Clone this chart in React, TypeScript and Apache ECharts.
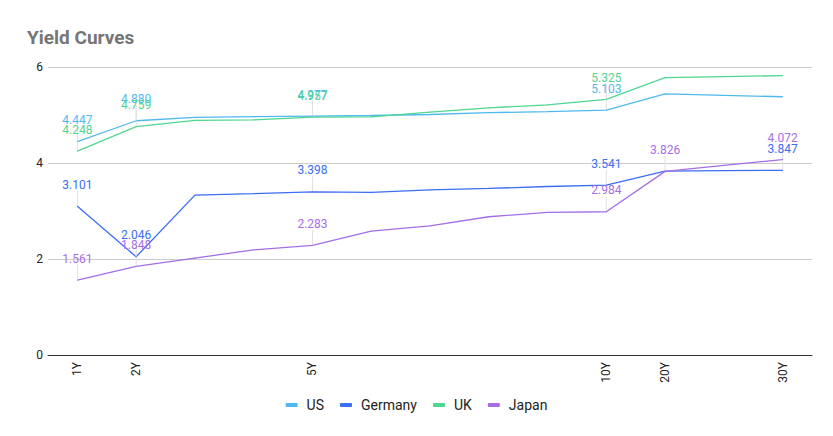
import * as echarts from "echarts";
import React, { useEffect, useRef } from "react";

// maturities on the category axis; only some of them carry a tick label
const maturities = ["1Y", "2Y", "3Y", "4Y", "5Y", "6Y", "7Y", "8Y", "9Y", "10Y", "20Y", "25Y", "30Y"];
const shownTicks = ["1Y", "2Y", "5Y", "10Y", "20Y", "30Y"];

const usYields = [4.447, 4.88, 4.95, 4.965, 4.977, 4.99, 5.01, 5.05, 5.07, 5.103, 5.44, 5.41, 5.38];
const germanyYields = [3.101, 2.046, 3.33, 3.36, 3.398, 3.39, 3.44, 3.47, 3.51, 3.541, 3.83, 3.84, 3.847];
const ukYields = [4.248, 4.759, 4.89, 4.9, 4.957, 4.96, 5.06, 5.15, 5.21, 5.325, 5.78, 5.8, 5.82];
const japanYields = [1.561, 1.848, 2.02, 2.19, 2.283, 2.58, 2.69, 2.88, 2.97, 2.984, 3.826, 3.95, 4.072];

// which points get a data label, per series
const usLabelled = ["1Y", "2Y", "5Y", "10Y"];
const germanyLabelled = ["1Y", "2Y", "5Y", "10Y", "30Y"];
const ukLabelled = ["1Y", "2Y", "5Y", "10Y"];
const japanLabelled = ["1Y", "2Y", "5Y", "10Y", "20Y", "30Y"];

const FONT = "Roboto, 'Noto Sans', sans-serif";

const makeSeries = (name: string, color: string, values: number[], labelled: string[]) => ({
  name,
  type: "line",
  symbol: "circle",
  symbolSize: 1,
  showSymbol: true,
  color,
  itemStyle: { color },
  lineStyle: { width: 1.3, color },
  labelLine: { show: true, lineStyle: { color: "#e0e0e0", width: 1 } },
  labelLayout: { dy: -12 },
  data: values.map((v, i) => ({
    value: v,
    label: {
      show: labelled.includes(maturities[i]),
      position: "top",
      distance: 3,
      color,
      fontSize: 12,
      fontFamily: FONT,
      formatter: (p: any) => Number(p.value).toFixed(3),
    },
  })),
});

const App: React.FC = () => {
  const chartRef = useRef<HTMLDivElement | null>(null);

  useEffect(() => {
    const chart = echarts.init(chartRef.current, null, { renderer: "svg" });
    chart.setOption({
      animation: false,
      backgroundColor: "#ffffff",
      title: {
        text: "Yield Curves",
        left: 22,
        top: 23,
        textStyle: { fontFamily: FONT, fontSize: 19, fontWeight: "bold", color: "#757575" },
      },
      legend: {
        bottom: 19,
        left: "center",
        itemWidth: 12,
        itemHeight: 4,
        itemGap: 16,
        icon: "roundRect",
        textStyle: { fontFamily: FONT, fontSize: 14, color: "#222", padding: [0, 0, 0, 4] },
        data: ["US", "Germany", "UK", "Japan"],
      },
      grid: { left: 48, right: 21, top: 67, bottom: 81 },
      xAxis: {
        type: "category",
        data: maturities,
        boundaryGap: true,
        axisTick: { show: false },
        axisLine: { lineStyle: { color: "#333", width: 1 } },
        axisLabel: {
          interval: 0,
          rotate: 90,
          margin: 7,
          fontSize: 12,
          fontFamily: FONT,
          color: "#222",
          formatter: (v: string) => (shownTicks.includes(v) ? v : ""),
        },
      },
      yAxis: {
        type: "value",
        min: 0,
        max: 6,
        interval: 2,
        axisLine: { show: false },
        axisTick: { show: false },
        axisLabel: { fontSize: 12, fontFamily: FONT, color: "#222", margin: 5 },
        splitLine: { lineStyle: { color: "#cccccc", width: 1 } },
      },
      series: [
        makeSeries("US", "#4fb9ef", usYields, usLabelled),
        makeSeries("Germany", "#3b6ef5", germanyYields, germanyLabelled),
        makeSeries("UK", "#4fd690", ukYields, ukLabelled),
        makeSeries("Japan", "#a56ee6", japanYields, japanLabelled),
      ],
    });
    return () => chart.dispose();
  }, []);

  return <div ref={chartRef} style={{ width: 833, height: 436, margin: -8 }} />;
};

export default App;
